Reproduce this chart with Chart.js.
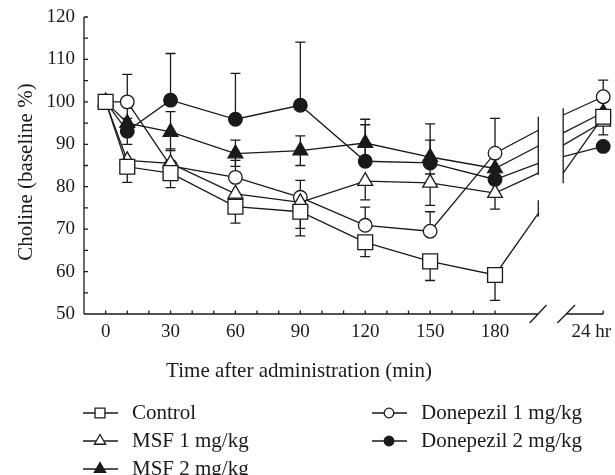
<!DOCTYPE html>
<html>
<head>
<meta charset="utf-8">
<script src="https://cdn.jsdelivr.net/npm/chart.js@4.4.1/dist/chart.umd.min.js"></script>
<style>
  html, body { margin: 0; padding: 0; background: #fff; }
  #wrap { width: 615px; height: 475px; }
</style>
</head>
<body>
<div id="wrap"><canvas id="c" width="615" height="475"></canvas></div>
<script>
// ── Data ─────────────────────────────────────────────────────────────────

// sample times in min; the 24 hr sample is plotted at 230, past the axis break
const TIMES = [0, 10, 30, 60, 90, 120, 150, 180, 230];
const X_TICKS = [0, 30, 60, 90, 120, 150, 180];
const X_LABEL_24 = '24 hr';
const Y_TICKS = [50, 60, 70, 80, 90, 100, 110, 120];

// the two sides of the break, and where each line meets them
const BREAK_X = [200, 211.5];

const CONTROL      = [100, 84.7, 83.2, 75.3, 74.1, 66.9, 62.4, 59.2, 96.5];
const CONTROL_UP   = [0, 0, 0, 0, 0, 0, 0, 0, 0];
const CONTROL_DOWN = [0, 3.7, 3.4, 3.9, 5.7, 3.4, 4.5, 6.0, 4.3];
const CONTROL_BRK  = [73.7, 83.2];

const MSF1      = [100, 86.2, 85.5, 78.3, 76.3, 81.3, 80.9, 78.5, 95.3];
const MSF1_UP   = [0, 0, 0, 0, 0, 0, 0, 0, 0];
const MSF1_DOWN = [0, 2.5, 3.0, 3.0, 6.1, 4.4, 5.3, 3.8, 0];
const MSF1_BRK  = [83.2, 89.8];

const MSF2      = [100, 95.0, 92.9, 87.8, 88.5, 90.3, 87.0, 84.3, 97.5];
const MSF2_UP   = [0, 4.0, 4.8, 3.2, 3.5, 4.3, 4.0, 3.0, 2.5];
const MSF2_DOWN = [0, 5.0, 4.4, 3.0, 3.5, 4.3, 4.0, 3.0, 2.5];
const MSF2_BRK  = [89.6, 92.7];

const DON1      = [100, 100, 84.9, 82.2, 77.5, 70.9, 69.5, 87.9, 101.2];
const DON1_UP   = [0, 6.5, 4.0, 4.0, 4.0, 4.3, 4.6, 8.2, 3.9];
const DON1_DOWN = [0, 0, 0, 0, 0, 0, 0, 0, 0];
const DON1_BRK  = [93.3, 96.9];

const DON2      = [100, 93.1, 100.4, 95.9, 99.2, 86.0, 85.6, 81.7, 89.5];
const DON2_UP   = [0, 3.0, 11.0, 10.8, 14.9, 9.9, 9.2, 3.0, 0];
const DON2_DOWN = [0, 0, 0, 0, 0, 0, 0, 0, 0];
const DON2_BRK  = [85.5, 87.1];

// vertical break strokes on the data lines: [side, low, high]
const BREAK_STROKES = [[0, 82.8, 96.5], [0, 72.9, 76.8], [1, 80.8, 98.5]];

// ── Style ────────────────────────────────────────────────────────────────

const INK = '#1a1a1a';
const TICK_FONT = '19px "Liberation Serif", "Times New Roman", serif';
const TEXT_FONT = '21px "Liberation Serif", "Times New Roman", serif';
const LW = 1.3;

const SERIES = [
  { label: 'Control',            vals: CONTROL, up: CONTROL_UP, down: CONTROL_DOWN, brk: CONTROL_BRK, style: 'rect',     fill: '#fff', r: 10.5, lr: 7 },
  { label: 'MSF 1 mg/kg',        vals: MSF1,    up: MSF1_UP,    down: MSF1_DOWN,    brk: MSF1_BRK,    style: 'triangle', fill: '#fff', r: 8.5,  lr: 6.5 },
  { label: 'MSF 2 mg/kg',        vals: MSF2,    up: MSF2_UP,    down: MSF2_DOWN,    brk: MSF2_BRK,    style: 'triangle', fill: INK,    r: 8.5,  lr: 6.5 },
  { label: 'Donepezil 1 mg/kg',  vals: DON1,    up: DON1_UP,    down: DON1_DOWN,    brk: DON1_BRK,    style: 'circle',   fill: '#fff', r: 6.8,  lr: 4.8 },
  { label: 'Donepezil 2 mg/kg',  vals: DON2,    up: DON2_UP,    down: DON2_DOWN,    brk: DON2_BRK,    style: 'circle',   fill: INK,    r: 6.8,  lr: 4.8 },
];

// legend slots: [marker x, row y]
const LEGEND_POS = [[100, 413], [100, 441], [100, 469], [389, 413], [389, 441]];

// ── Build datasets: 0..180, run to the break, gap, then on to 24 hr ──────

function buildPoints(s) {
  const pts = TIMES.slice(0, 8).map((t, i) => ({ x: t, y: s.vals[i] }));
  pts.push({ x: BREAK_X[0], y: s.brk[0] });
  pts.push({ x: (BREAK_X[0] + BREAK_X[1]) / 2, y: null });
  pts.push({ x: BREAK_X[1], y: s.brk[1] });
  pts.push({ x: TIMES[8], y: s.vals[8] });
  return pts;
}

const datasets = SERIES.map(s => ({
  label: s.label,
  data: buildPoints(s),
  borderColor: INK,
  borderWidth: LW,
  pointStyle: s.style,
  // markers on the real samples only, none at the break ends
  pointRadius: ctx => (ctx.dataIndex < 8 || ctx.dataIndex === 11) ? s.r : 0,
  pointBackgroundColor: s.fill,
  pointBorderColor: INK,
  pointBorderWidth: LW,
  tension: 0,
  spanGaps: false,
  clip: false,
}));

// ── Plugins ──────────────────────────────────────────────────────────────

const errorBars = {
  id: 'errorBars',
  beforeDatasetsDraw(chart) {
    const { ctx, scales: { x, y } } = chart;
    ctx.save();
    ctx.strokeStyle = INK;
    ctx.lineWidth = LW;
    SERIES.forEach(s => {
      TIMES.forEach((t, i) => {
        const px = x.getPixelForValue(t);
        [[s.up[i], 1], [s.down[i], -1]].forEach(([e, dir]) => {
          if (!e) return;
          const y0 = y.getPixelForValue(s.vals[i]);
          const y1 = y.getPixelForValue(s.vals[i] + dir * e);
          ctx.beginPath();
          ctx.moveTo(px, y0); ctx.lineTo(px, y1);
          ctx.moveTo(px - 5, y1); ctx.lineTo(px + 5, y1);
          ctx.stroke();
        });
      });
    });
    // break strokes on the data lines
    BREAK_STROKES.forEach(([side, lo, hi]) => {
      const px = x.getPixelForValue(BREAK_X[side]);
      ctx.beginPath();
      ctx.moveTo(px, y.getPixelForValue(lo));
      ctx.lineTo(px, y.getPixelForValue(hi));
      ctx.stroke();
    });
    ctx.restore();
  },
};

const axes = {
  id: 'axes',
  afterDraw(chart) {
    const { ctx, scales: { x, y } } = chart;
    const y0 = y.getPixelForValue(50);
    const xl = x.getPixelForValue(-10);
    ctx.save();
    ctx.strokeStyle = INK;
    ctx.fillStyle = INK;
    ctx.lineWidth = LW;

    // y axis + inward ticks every 5
    ctx.beginPath();
    ctx.moveTo(xl, y.getPixelForValue(120));
    ctx.lineTo(xl, y0);
    for (let v = 55; v <= 120; v += 5) {
      const py = y.getPixelForValue(v);
      ctx.moveTo(xl, py); ctx.lineTo(xl + 4, py);
    }
    // x axis in two pieces around the break
    ctx.moveTo(xl, y0); ctx.lineTo(x.getPixelForValue(199.8), y0);
    ctx.moveTo(x.getPixelForValue(212.8), y0); ctx.lineTo(x.getPixelForValue(230), y0);
    for (let v = 0; v <= 180; v += 10) {
      const px = x.getPixelForValue(v);
      ctx.moveTo(px, y0); ctx.lineTo(px, y0 - 3.5);
    }
    const pe = x.getPixelForValue(230);
    ctx.moveTo(pe, y0); ctx.lineTo(pe, y0 - 3.5);
    // break slashes
    [[196, 203.8], [208.8, 217]].forEach(([a, b]) => {
      ctx.moveTo(x.getPixelForValue(a), y0 + 9);
      ctx.lineTo(x.getPixelForValue(b), y0 - 9);
    });
    ctx.stroke();

    ctx.font = TICK_FONT;
    ctx.textBaseline = 'middle';
    ctx.textAlign = 'right';
    Y_TICKS.forEach(v => ctx.fillText(String(v), xl - 9, y.getPixelForValue(v)));
    ctx.textAlign = 'center';
    X_TICKS.forEach(v => ctx.fillText(String(v), x.getPixelForValue(v), 332));
    ctx.textAlign = 'right';
    ctx.fillText(X_LABEL_24, pe + 8, 332);

    // axis titles
    ctx.font = TEXT_FONT;
    ctx.textAlign = 'center';
    ctx.fillText('Time after administration (min)', 299, 371);
    ctx.translate(26, 172);
    ctx.rotate(-Math.PI / 2);
    ctx.fillText('Choline (baseline %)', 0, 0);
    ctx.restore();
  },
};

const legendBox = {
  id: 'legendBox',
  afterDraw(chart) {
    const { ctx } = chart;
    ctx.save();
    ctx.font = TEXT_FONT;
    ctx.textBaseline = 'middle';
    ctx.textAlign = 'left';
    SERIES.forEach((s, i) => {
      const [mx, my] = LEGEND_POS[i];
      ctx.strokeStyle = INK;
      ctx.lineWidth = LW;
      ctx.beginPath();
      ctx.moveTo(mx - 17, my); ctx.lineTo(mx + 18, my);
      ctx.stroke();
      ctx.fillStyle = s.fill;
      Chart.helpers.drawPoint(ctx, { pointStyle: s.style, radius: s.lr, borderWidth: LW, rotation: 0 }, mx, my);
      ctx.fillStyle = INK;
      ctx.fillText(s.label, mx + 32, my);
    });
    ctx.restore();
  },
};

// ── Chart ────────────────────────────────────────────────────────────────

new Chart(document.getElementById('c').getContext('2d'), {
  type: 'line',
  data: { datasets },
  options: {
    responsive: false,
    animation: false,
    layout: { padding: { left: 84, right: 10, top: 17, bottom: 161 } },
    scales: {
      x: { type: 'linear', display: false, min: -10, max: 230 },
      y: { display: false, min: 50, max: 120 },
    },
    plugins: { legend: { display: false }, tooltip: { enabled: false } },
  },
  plugins: [errorBars, axes, legendBox],
});
</script>
</body>
</html>
